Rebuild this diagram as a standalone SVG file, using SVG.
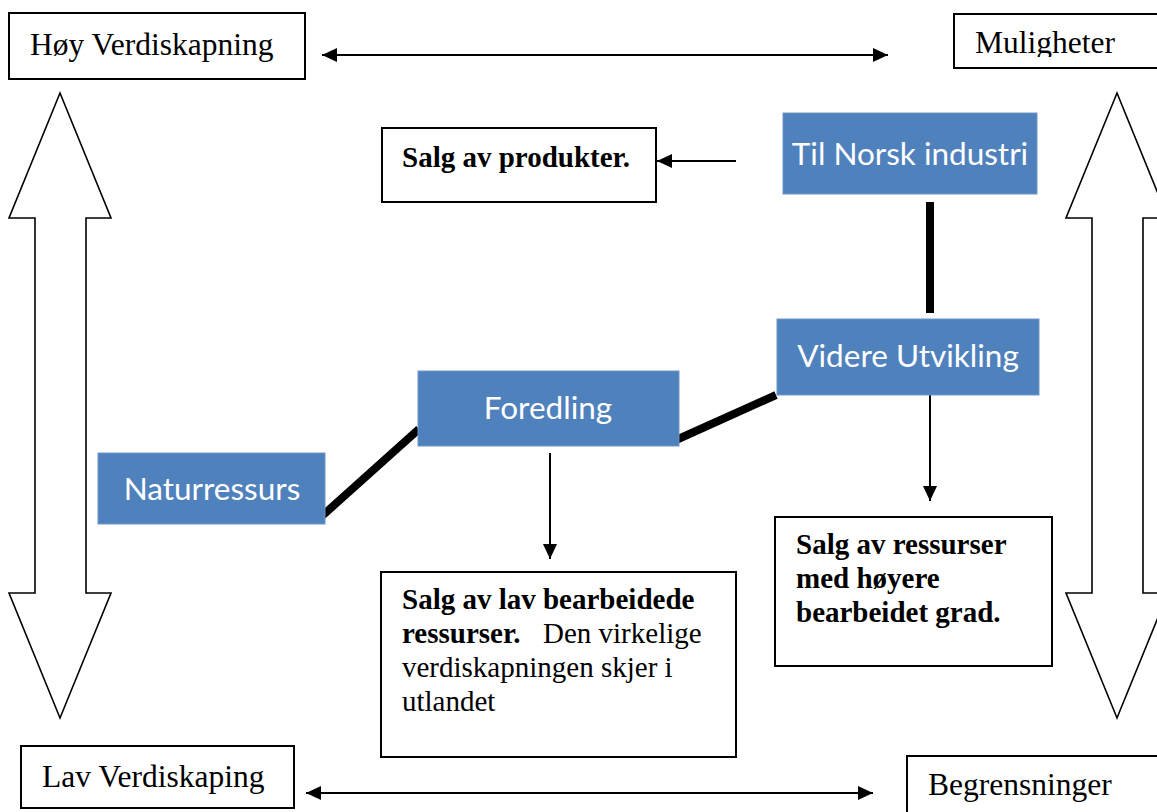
<svg xmlns="http://www.w3.org/2000/svg" width="1157" height="812" viewBox="0 0 1157 812">
<style>
.lbl{font-family:"Liberation Serif","Times New Roman",serif;font-size:31.5px;fill:#000}
.bt{font-family:"Liberation Serif","Times New Roman",serif;font-size:29px;fill:#000}
.b{font-weight:bold}
.wbox{fill:#fff;stroke:#000;stroke-width:2}
.blue{fill:#4F81BD;stroke:#6f97c8;stroke-width:1}
.bl{font-family:Lato,"Open Sans",sans-serif;font-size:31.5px;fill:#fff;text-anchor:middle}
.big{fill:#fff;stroke:#000;stroke-width:1.6;stroke-linejoin:miter}
.thin{stroke:#000;stroke-width:2;fill:none}
.thick{stroke:#000;stroke-width:8;fill:none}
</style>
<defs>
<marker id="ah" viewBox="0 0 15 14" refX="15" refY="7" markerWidth="15" markerHeight="14" markerUnits="userSpaceOnUse" orient="auto-start-reverse">
<path d="M0,0 L15,7 L0,14 Z" fill="#000"/>
</marker>
<clipPath id="mclip"><rect x="954" y="14" width="203" height="43"/></clipPath>
</defs>
<rect width="1157" height="812" fill="#fff"/>

<g id="arrow-left">
<polygon class="big" points="60,93 111,218 86,218 86,593 111,593 60,718 9,593 35,593 35,218 9,218"/>
</g>
<g id="arrow-right">
<polygon class="big" points="1117,93 1168,218 1143,218 1143,593 1168,593 1117,718 1066,593 1092,593 1092,218 1066,218"/>
</g>

<g id="connectors">
<line class="thin" x1="322" y1="55" x2="888" y2="55" marker-start="url(#ah)" marker-end="url(#ah)"/>
<line class="thin" x1="306" y1="793" x2="873" y2="793" marker-start="url(#ah)" marker-end="url(#ah)"/>
<line class="thin" x1="736" y1="161" x2="657" y2="161" marker-end="url(#ah)"/>
<line class="thin" x1="550" y1="453" x2="550" y2="559" marker-end="url(#ah)"/>
<line class="thin" x1="930" y1="395" x2="930" y2="501" marker-end="url(#ah)"/>
<line class="thick" x1="322" y1="516" x2="419" y2="429"/>
<line class="thick" x1="676" y1="440" x2="776" y2="395"/>
<line class="thick" x1="930" y1="202" x2="930" y2="313"/>
</g>

<g id="hoy">
<rect class="wbox" x="9" y="13" width="296" height="66"/>
<text class="lbl" x="30" y="55">Høy Verdiskapning</text>
</g>
<g id="muligheter">
<rect class="wbox" x="954" y="14" width="210" height="54"/>
<text class="lbl" x="975" y="53" clip-path="url(#mclip)">Muligheter</text>
</g>
<g id="lav">
<rect class="wbox" x="21" y="746" width="273" height="62"/>
<text class="lbl" x="42" y="787">Lav Verdiskaping</text>
</g>
<g id="begrensninger">
<rect class="wbox" x="907" y="756" width="260" height="70"/>
<text class="lbl" x="928" y="795">Begrensninger</text>
</g>

<g id="salg-produkter">
<rect class="wbox" x="382" y="128" width="274" height="74"/>
<text class="bt b" x="402" y="167">Salg av produkter.</text>
</g>

<g id="til-norsk">
<rect class="blue" x="783" y="113" width="254" height="81"/>
<text class="bl" x="910" y="165">Til Norsk industri</text>
</g>
<g id="videre">
<rect class="blue" x="777" y="319" width="262" height="76"/>
<text class="bl" x="908" y="367">Videre Utvikling</text>
</g>
<g id="foredling">
<rect class="blue" x="418" y="371" width="261" height="75"/>
<text class="bl" x="548" y="419">Foredling</text>
</g>
<g id="naturressurs">
<rect class="blue" x="98" y="453" width="227" height="71"/>
<text class="bl" x="212" y="500">Naturressurs</text>
</g>

<g id="salg-lav">
<rect class="wbox" x="381" y="572" width="355" height="185"/>
<text class="bt" x="402" y="609"><tspan class="b">Salg av lav bearbeidede</tspan></text>
<text class="bt" x="402" y="643"><tspan class="b">ressurser.</tspan><tspan x="543">Den virkelige</tspan></text>
<text class="bt" x="402" y="677">verdiskapningen skjer i</text>
<text class="bt" x="402" y="711">utlandet</text>
</g>

<g id="salg-ressurser">
<rect class="wbox" x="775" y="517" width="277" height="149"/>
<text class="bt b" x="796" y="554">Salg av ressurser</text>
<text class="bt b" x="796" y="588">med høyere</text>
<text class="bt b" x="796" y="622">bearbeidet grad.</text>
</g>
</svg>
